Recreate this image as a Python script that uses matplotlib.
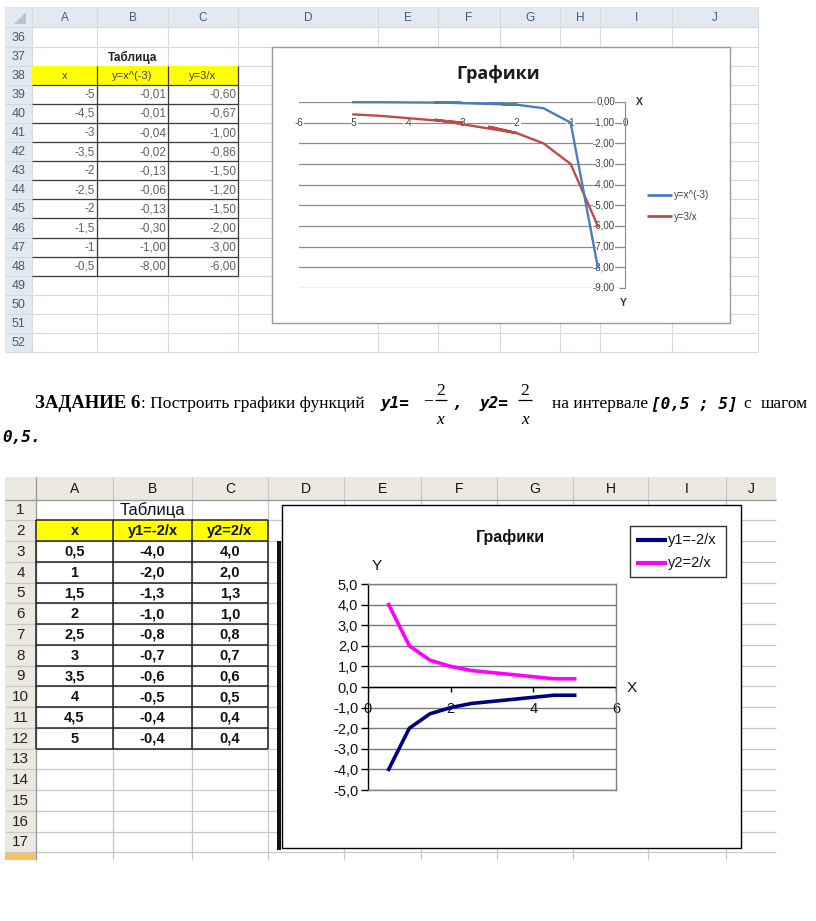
import matplotlib
matplotlib.use('Agg')
import matplotlib.pyplot as plt
from matplotlib.patches import Rectangle, Polygon

# ---------------- data ----------------
# top sheet (Excel 2007 style)
top_cols = ['A', 'B', 'C', 'D', 'E', 'F', 'G', 'H', 'I', 'J']
top_rows = list(range(36, 53))
t1_title = 'Таблица'
t1_headers = ['x', 'y=x^(-3)', 'y=3/x']
t1_x = [-5, -4.5, -3, -3.5, -2, -2.5, -2, -1.5, -1, -0.5]
t1_ya = [-0.01, -0.01, -0.04, -0.02, -0.13, -0.06, -0.13, -0.30, -1.00, -8.00]
t1_yb = [-0.60, -0.67, -1.00, -0.86, -1.50, -1.20, -1.50, -2.00, -3.00, -6.00]
c1_title = 'Графики'
c1_series = ['y=x^(-3)', 'y=3/x']
c1_xticks = [-6, -5, -4, -3, -2, -1, 0]
c1_yticks = [0, -1, -2, -3, -4, -5, -6, -7, -8, -9]

# bottom sheet (Excel 2003 style)
bot_cols = ['A', 'B', 'C', 'D', 'E', 'F', 'G', 'H', 'I', 'J']
bot_rows = list(range(1, 19))
t2_title = 'Таблица'
t2_headers = ['x', 'y1=-2/x', 'y2=2/x']
t2_x = [0.5, 1, 1.5, 2, 2.5, 3, 3.5, 4, 4.5, 5]
t2_y1 = [-4.0, -2.0, -1.3, -1.0, -0.8, -0.7, -0.6, -0.5, -0.4, -0.4]
t2_y2 = [4.0, 2.0, 1.3, 1.0, 0.8, 0.7, 0.6, 0.5, 0.4, 0.4]
c2_title = 'Графики'
c2_series = ['y1=-2/x', 'y2=2/x']
c2_xticks = [0, 2, 4, 6]
c2_yticks = [5, 4, 3, 2, 1, 0, -1, -2, -3, -4, -5]


def fnum(v, nd=None):
    if nd is None:
        s = ('%g' % v)
    else:
        s = ('%.' + str(nd) + 'f') % v
    return s.replace('.', ',')


W, H = 816, 921
fig = plt.figure(figsize=(W / 100, H / 100), dpi=100)
bg = fig.add_axes([0, 0, 1, 1])
bg.set_xlim(0, W)
bg.set_ylim(H, 0)
bg.axis('off')


def fa(x0, y0, x1, y1):
    return [x0 / W, 1 - y1 / H, (x1 - x0) / W, (y1 - y0) / H]


def rect(x0, y0, x1, y1, fc='none', ec='none', lw=1, z=1):
    bg.add_patch(Rectangle((x0, y0), x1 - x0, y1 - y0, facecolor=fc,
                           edgecolor=ec, linewidth=lw, zorder=z))


def hl(y, x0, x1, c, lw=1, z=2):
    bg.plot([x0, x1], [y, y], color=c, lw=lw, zorder=z, solid_capstyle='butt')


def vl(x, y0, y1, c, lw=1, z=2):
    bg.plot([x, x], [y0, y1], color=c, lw=lw, zorder=z, solid_capstyle='butt')


SANS = 'Liberation Sans'

# ================= TOP SHEET =================
tx = [5, 32, 97, 168, 238, 378, 438, 500, 560, 600, 672, 758]
ty0, ty1 = 7, 27.5
trh = 19.1
tgrid = '#d4d9e2'
thead = '#e3e9f1'
ttext = '#4a5870'
rows_bottom = ty1 + len(top_rows) * trh
rect(tx[0], ty0, tx[-1], ty1, fc=thead, z=1)
rect(tx[0], ty1, tx[1], rows_bottom, fc=thead, z=1)
bg.add_patch(Polygon([[26, 12], [26, 24], [14, 24]], closed=True,
                     facecolor='#b9c4d3', edgecolor='none', zorder=2))
for i, c in enumerate(top_cols):
    cx = (tx[i + 1] + tx[i + 2]) / 2
    bg.text(cx, (ty0 + ty1) / 2 + 1, c, ha='center', va='center', fontsize=8.5,
            color=ttext, family=SANS)
for x in tx[1:]:
    vl(x, ty0, rows_bottom, tgrid, lw=0.8, z=1.5)
for j, r in enumerate(top_rows):
    yt = ty1 + j * trh
    hl(yt, tx[0], tx[-1], tgrid, lw=0.8, z=1.5)
    bg.text(18.5, yt + trh / 2 + 0.5, str(r), ha='center', va='center',
            fontsize=9, color=ttext, family=SANS)
hl(rows_bottom, tx[0], tx[-1], tgrid, lw=0.8, z=1.5)


def trow(r):
    return ty1 + (r - 36) * trh


# Table 1
bg.text((tx[2] + tx[3]) / 2, trow(37) + trh / 2 + 1, t1_title, ha='center',
        va='center', fontsize=8.5, fontweight='bold', color='#222222', family=SANS)
rect(tx[1], trow(38), tx[4], trow(39), fc='#ffff00', z=1.6)
for i, h in enumerate(t1_headers):
    bg.text((tx[1 + i] + tx[2 + i]) / 2, trow(38) + trh / 2 + 0.5, h,
            ha='center', va='center', fontsize=8, color='#404040', family=SANS)
for k in range(len(t1_x)):
    yc = trow(39 + k) + trh / 2 + 0.5
    vals = [fnum(t1_x[k]), fnum(t1_ya[k], 2), fnum(t1_yb[k], 2)]
    for i, v in enumerate(vals):
        bg.text(tx[2 + i] - 2, yc, v, ha='right', va='center', fontsize=8.5,
                color='#606060', family=SANS)
tb = '#3a3a3a'
for r in range(39, 50):
    hl(trow(r), tx[1], tx[4], tb, lw=0.9, z=2.5)
for x in tx[2:5]:
    vl(x, trow(38), trow(49), tb, lw=0.9, z=2.5)

# Chart 1 frame
rect(272, 47, 730, 323, fc='white', ec='#9a9a9a', lw=1, z=3)
bg.text(498, 74, c1_title, ha='center', va='center', fontsize=13,
        fontweight='bold', color='#1a1a1a', family='Open Sans', zorder=4)
bg.text(639, 102, 'X', ha='center', va='center', fontsize=7.5, fontweight='bold',
        color='#333333', family=SANS, zorder=4)
bg.text(623, 303, 'Y', ha='center', va='center', fontsize=7.5, fontweight='bold',
        color='#333333', family=SANS, zorder=4)
c1_colors = ['#4a7ebb', '#be4b48']
for i, (name, col) in enumerate(zip(c1_series, c1_colors)):
    yy = 195 + i * 21.5
    hl(yy, 647, 672, col, lw=2, z=4)
    bg.text(674, yy, name, ha='left', va='center', fontsize=7, color='#404040',
            family=SANS, zorder=4)

ax1 = fig.add_axes(fa(299, 102, 625, 288))
ax1.patch.set_visible(False)
ax1.set_xlim(-6, 0)
ax1.set_ylim(-9, 0)
for s in ['top', 'left', 'bottom']:
    ax1.spines[s].set_visible(False)
ax1.spines['right'].set_color('#8c8c8c')
ax1.spines['right'].set_linewidth(0.8)
ax1.set_xticks([])
ax1.yaxis.tick_right()
ax1.set_yticks(c1_yticks)
ax1.tick_params(axis='y', direction='in', length=4, color='#8c8c8c',
                labelright=False, labelleft=False)
for y in c1_yticks:
    ax1.axhline(y, color='#8c8c8c', lw=0.9, zorder=1)
    ax1.annotate(fnum(y, 2), xy=(0, y), xytext=(-10, 0),
                 textcoords='offset pixels', ha='right', va='center',
                 fontsize=7, color='#404040', family=SANS, zorder=2,
                 annotation_clip=False,
                 bbox=dict(fc='white', ec='none', pad=0.3))
for xt in c1_xticks:
    ax1.text(xt, -1, str(xt), ha='center', va='center', fontsize=7,
             color='#404040', family=SANS, zorder=2,
             bbox=dict(fc='white', ec='none', pad=0.2))
ax1.plot(t1_x, t1_ya, color=c1_colors[0], lw=1.7, zorder=4, clip_on=False)
ax1.plot(t1_x, t1_yb, color=c1_colors[1], lw=1.7, zorder=3, clip_on=False)

# ================= MIDDLE TEXT =================
SERIF = 'Liberation Serif'
MONO = 'DejaVu Sans Mono'
ym = 408
fs = 12.5
renderer = fig.canvas.get_renderer()
t_bold = bg.text(35, ym, 'ЗАДАНИЕ 6', ha='left', va='baseline', fontsize=13.5,
                 fontweight='bold', family=SERIF)
bb = t_bold.get_window_extent(renderer=renderer)
bg.text(bb.x1 + 0.5, ym, ': Построить графики функций', ha='left',
        va='baseline', fontsize=fs, family=SERIF)
bg.text(381, ym, 'y1=', ha='left', va='baseline', fontsize=11.5,
        fontweight='bold', fontstyle='italic', family=MONO)
bg.text(428, 401.5, '−', ha='center', va='center', fontsize=fs, family=SERIF)
hl(400, 434.5, 447, 'black', lw=0.9)
bg.text(440.5, 395, '2', ha='center', va='baseline', fontsize=fs, family=SERIF)
bg.text(440.5, 424, 'x', ha='center', va='baseline', fontsize=fs,
        fontstyle='italic', family=SERIF)
bg.text(452, ym, ',', ha='left', va='baseline', fontsize=11.5,
        fontweight='bold', fontstyle='italic', family=MONO)
bg.text(480, ym, 'y2=', ha='left', va='baseline', fontsize=11.5,
        fontweight='bold', fontstyle='italic', family=MONO)
hl(400, 518, 532, 'black', lw=0.9)
bg.text(525, 395, '2', ha='center', va='baseline', fontsize=fs, family=SERIF)
bg.text(525, 424, 'x', ha='center', va='baseline', fontsize=fs,
        fontstyle='italic', family=SERIF)
bg.text(552, ym, 'на интервале', ha='left', va='baseline', fontsize=fs,
        family=SERIF)
bg.text(651, ym, '[0,5 ; 5]', ha='left', va='baseline', fontsize=11.5,
        fontweight='bold', fontstyle='italic', family=MONO)
bg.text(743, ym, 'с', ha='left', va='baseline', fontsize=fs, family=SERIF)
bg.text(808, ym, 'шагом', ha='right', va='baseline', fontsize=fs, family=SERIF)
bg.text(2, 442, '0,5.', ha='left', va='baseline', fontsize=11.5,
        fontweight='bold', fontstyle='italic', family=MONO)

# ================= BOTTOM SHEET =================
bx = [5, 36, 113, 192, 268, 344, 421, 497, 573, 648, 726, 776]
by0, by1 = 477, 499.5
brh = 20.75
bgrid = '#c8c8c8'
bhead = '#eceae0'
bend = 860
rect(bx[0], by0, bx[-1], by1, fc=bhead, z=1)
rect(bx[0], by1, bx[1], bend, fc=bhead, z=1)
for i, c in enumerate(bot_cols):
    cx = (bx[i + 1] + bx[i + 2]) / 2
    bg.text(cx, (by0 + by1) / 2 + 1, c, ha='center', va='center', fontsize=10,
            color='#111111', family=SANS)
for x in bx[1:-1]:
    vl(x, by0, bend, bgrid, lw=0.9, z=1.5)
vl(bx[1], by0, bend, '#9a9a9a', lw=0.9, z=1.6)
hl(by1, bx[0], bx[-1], '#9a9a9a', lw=0.9, z=1.6)


def brow(r):
    return by1 + (r - 1) * brh


for r in bot_rows:
    yt = brow(r)
    hl(yt, bx[0], bx[-1], bgrid, lw=0.9, z=1.5)
    if r < 18:
        bg.text(20.5, yt + brh / 2 + 0.5, str(r), ha='center', va='center',
                fontsize=11, color='#222222', family=SANS)
rect(bx[0], brow(18) + 1, bx[1], bend, fc='#f7c25e', z=1.7)

bg.text((bx[1] + bx[4]) / 2, brow(1) + brh / 2 + 0.5, t2_title, ha='center',
        va='center', fontsize=12, color='#111111', family=SANS)
rect(bx[1], brow(2), bx[4], brow(3), fc='#ffff00', z=1.6)
for i, h in enumerate(t2_headers):
    bg.text((bx[1 + i] + bx[2 + i]) / 2, brow(2) + brh / 2 + 0.5, h,
            ha='center', va='center', fontsize=10.5, fontweight='bold',
            color='#111111', family=SANS)
for k in range(len(t2_x)):
    yc = brow(3 + k) + brh / 2 + 0.5
    vals = [fnum(t2_x[k]), fnum(t2_y1[k], 1), fnum(t2_y2[k], 1)]
    for i, v in enumerate(vals):
        bg.text((bx[1 + i] + bx[2 + i]) / 2, yc, v, ha='center', va='center',
                fontsize=10.5, fontweight='bold', color='#111111', family=SANS)
for r in range(2, 14):
    hl(brow(r), bx[1], bx[4], '#222222', lw=1.1, z=2.5)
for x in bx[1:5]:
    vl(x, brow(2), brow(13), '#222222', lw=1.1, z=2.5)

# Chart 2 frame
rect(277, 541, 281, 850, fc='#111111', z=2.8)
rect(282, 505, 741, 848, fc='white', ec='black', lw=1, z=3)
bg.text(510, 537, c2_title, ha='center', va='center', fontsize=11.5,
        fontweight='bold', color='#111111', family=SANS, zorder=4)
bg.text(377, 566, 'Y', ha='center', va='center', fontsize=11,
        color='#111111', family=SANS, zorder=4)
bg.text(632, 688, 'X', ha='center', va='center', fontsize=11,
        color='#111111', family=SANS, zorder=4)
c2_colors = ['#000080', '#ff00ff']
rect(630, 526, 726, 577, fc='white', ec='#333333', lw=1, z=4)
for i, (name, col) in enumerate(zip(c2_series, c2_colors)):
    yy = 540 + i * 23
    hl(yy, 636, 667, col, lw=3, z=5)
    bg.text(668, yy, name, ha='left', va='center', fontsize=10.5,
            color='#111111', family=SANS, zorder=5)

ax2 = fig.add_axes(fa(368, 584, 616, 790))
ax2.patch.set_visible(False)
ax2.set_xlim(0, 6)
ax2.set_ylim(-5, 5)
for s in ['top', 'right', 'bottom']:
    ax2.spines[s].set_color('#808080')
    ax2.spines[s].set_linewidth(1)
ax2.spines['left'].set_color('black')
ax2.spines['left'].set_linewidth(1)
ax2.set_xticks([])
ax2.set_yticks(c2_yticks)
ax2.set_yticklabels([fnum(v, 1) for v in c2_yticks], fontsize=10.5,
                    family=SANS, color='#111111')
ax2.tick_params(axis='y', direction='out', length=5, width=1, pad=2)
for y in c2_yticks:
    ax2.axhline(y, color='#7a7a7a', lw=1, zorder=1)
ax2.axhline(0, color='black', lw=1, zorder=1.5)
ax2.vlines(c2_xticks, -0.25, 0, color='black', lw=1, zorder=1.5)
for xt in c2_xticks:
    ax2.text(xt, -1.05, str(xt), ha='center', va='center', fontsize=10.5,
             family=SANS, color='#111111', zorder=2, clip_on=False)
ax2.plot(t2_x, t2_y1, color=c2_colors[0], lw=2.6, zorder=4)
ax2.plot(t2_x, t2_y2, color=c2_colors[1], lw=2.6, zorder=4)

fig.savefig('out.png', dpi=100)
